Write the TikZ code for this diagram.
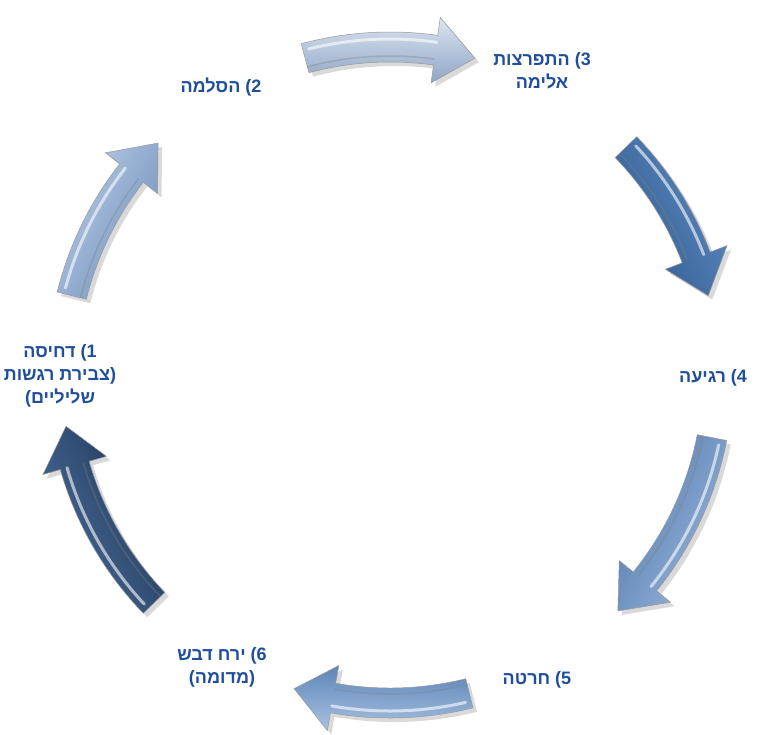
\documentclass[tikz,border=0pt]{standalone}
\usepackage{fontspec}
\newfontfamily\hebfont[Script=Hebrew]{Liberation Sans}
\TeXXeTstate=1
\usetikzlibrary{shadows}

\definecolor{labelblue}{HTML}{1F4E9C}
\definecolor{steelA}{HTML}{DCE4EF}
\definecolor{steelB}{HTML}{8FA6C6}
\definecolor{steelC}{HTML}{5F8BC0}
\definecolor{steelD}{HTML}{2F5A8F}
\definecolor{steelE}{HTML}{9DB8DC}
\definecolor{steelF}{HTML}{4F78AC}
\definecolor{steelG}{HTML}{A9C2E2}
\definecolor{steelH}{HTML}{5A82B5}
\definecolor{steelI}{HTML}{4B6E9C}
\definecolor{steelJ}{HTML}{1E3556}
\definecolor{steelK}{HTML}{B9CCE6}
\definecolor{steelL}{HTML}{6F8FBB}

\tikzset{
  cyclelabel/.style={font=\hebfont\bfseries\fontsize{18}{23}\selectfont,text=labelblue,align=center,inner sep=0pt},
  ringarrow/.style={draw=black!40,line width=0.5pt,
    drop shadow={opacity=0.3,shadow xshift=4pt,shadow yshift=-4pt}},
  glint/.style={white,opacity=0.6,line width=3pt,line cap=round},
}

% ring arrow: start angle, end angle, outer colour, inner colour
\newcommand{\cyclearrow}[4]{%
  \pgfmathsetmacro{\hb}{#2+7}%
  \pgfmathsetmacro{\mid}{(#1+#2)/2-90}%
  \path[ringarrow,top color=#3,bottom color=#4,shading angle=\mid]
    (#1:343) arc[start angle=#1,end angle=\hb,radius=343]
    -- (\hb:361) -- (#2:328) -- (\hb:295)
    -- (\hb:313) arc[start angle=\hb,end angle=#1,radius=313] -- cycle;
  \draw[glint] (#1-1:336) arc[start angle=#1-1,end angle=\hb,radius=336];
  \draw[black!50,opacity=0.35,line width=1.5pt] (#1:319) arc[start angle=#1,end angle=\hb,radius=319];
}

\begin{document}
\begin{tikzpicture}[x=1pt,y=1pt]
  \useasboundingbox (0,0) rectangle (757,-734);
  \coordinate (C) at (390,-375);

  \begin{scope}[shift={(C)}]
    \cyclearrow{105}{75}{steelA}{steelB}
    \cyclearrow{44}{14}{steelC}{steelD}
    \cyclearrow{-11}{-46}{steelE}{steelF}
    \cyclearrow{-76}{-107}{steelG}{steelH}
    \cyclearrow{-136}{-171}{steelI}{steelJ}
    \cyclearrow{166}{135}{steelK}{steelL}
  \end{scope}

  \node[cyclelabel] (s1) at (60,-376) {\beginR 1) דחיסה\endR\\\beginR (צבירת רגשות\endR\\\beginR שליליים)\endR};
  \node[cyclelabel] (s2) at (221,-87) {\beginR 2) הסלמה\endR};
  \node[cyclelabel] (s3) at (542,-71) {\beginR 3) התפרצות\endR\\\beginR אלימה\endR};
  \node[cyclelabel] (s4) at (713,-378) {\beginR 4) רגיעה\endR};
  \node[cyclelabel] (s5) at (537,-680) {\beginR 5) חרטה\endR};
  \node[cyclelabel] (s6) at (222,-667) {\beginR 6) ירח דבש\endR\\\beginR (מדומה)\endR};
\end{tikzpicture}
\end{document}
